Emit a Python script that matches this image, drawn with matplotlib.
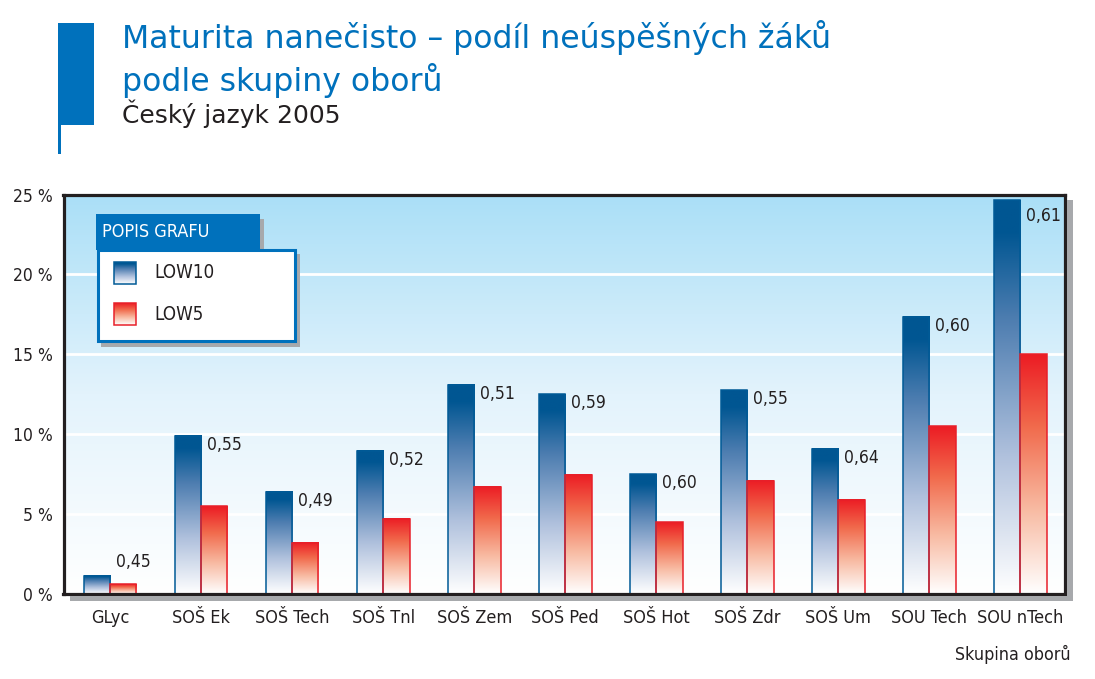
import numpy as np
import matplotlib
matplotlib.use("Agg")
import matplotlib.pyplot as plt
from matplotlib.colors import LinearSegmentedColormap
from matplotlib.patches import Rectangle

# data
obory = ["GLyc", "SOŠ Ek", "SOŠ Tech", "SOŠ Tnl", "SOŠ Zem", "SOŠ Ped",
         "SOŠ Hot", "SOŠ Zdr", "SOŠ Um", "SOU Tech", "SOU nTech"]
low10 = [1.15, 9.9, 6.4, 8.95, 13.1, 12.5, 7.5, 12.75, 9.1, 17.35, 24.65]
low5 = [0.6, 5.5, 3.2, 4.7, 6.7, 7.45, 4.5, 7.1, 5.9, 10.5, 15.0]
popisky = ["0,45", "0,55", "0,49", "0,52", "0,51", "0,59",
           "0,60", "0,55", "0,64", "0,60", "0,61"]
yticks = [0, 5, 10, 15, 20, 25]

W, H = 1095, 679
BLUE = "#0071bc"
DARK = "#231f20"
SHADOW = "#a7a9ac"
NARROW = dict(family="DejaVu Sans", fontstretch="condensed")
plt.rcParams["font.family"] = ["DejaVu Sans"]

fig = plt.figure(figsize=(W / 100, H / 100), dpi=100)
fig.patch.set_facecolor("white")

# axes placed in pixel coords of the reference
left, right, top, bottom = 63.5, 1065, 194.5, 594
ax = fig.add_axes([left / W, 1 - bottom / H, (right - left) / W, (bottom - top) / H])

cm_blue = LinearSegmentedColormap.from_list(
    "b", [(0, "#ffffff"), (0.35, "#b0c1dd"), (0.7, "#4d7db0"), (0.92, "#005692"), (1, "#005692")])
cm_red = LinearSegmentedColormap.from_list(
    "r", [(0, "#ffffff"), (0.35, "#f8bba3"), (0.7, "#f16a4c"), (1, "#ec1c24")])
cm_bg = LinearSegmentedColormap.from_list("bg", ["#ffffff", "#e3f3fc", "#aadff7"])

grad = np.linspace(0, 1, 256).reshape(-1, 1)
ax.imshow(grad, cmap=cm_bg, extent=[0, 1, 0, 1], origin="lower", aspect="auto",
          transform=ax.transAxes, zorder=0)

x = np.arange(len(obory))
w = 0.29
b1 = ax.bar(x - w / 2, low10, w, facecolor="none", edgecolor="#005a96", lw=1.1, zorder=3)
b2 = ax.bar(x + w / 2, low5, w, facecolor="none", edgecolor="#e8202a", lw=1.1, zorder=3)
for bars, cm in ((b1, cm_blue), (b2, cm_red)):
    for r in bars:
        bx, bw, bh = r.get_x(), r.get_width(), r.get_height()
        ax.imshow(grad, cmap=cm, extent=[bx, bx + bw, 0, bh], origin="lower",
                  aspect="auto", zorder=2)

for r, txt in zip(b1, popisky):
    v = r.get_height()
    ax.annotate(txt, (r.get_x() + r.get_width(), min(max(v, 2.55), 24.2)),
                xytext=(4, 0), textcoords="offset points", ha="left", va="top",
                fontsize=12.5, color=DARK, **NARROW)

ax.set_xlim(-0.511, 10.49)
ax.set_ylim(0, 25)
ax.set_yticks(yticks)
ax.set_yticklabels([f"{t} %" for t in yticks], fontsize=12.5, color=DARK, **NARROW)
ax.set_xticks(x)
ax.set_xticklabels(obory, fontsize=13, color=DARK, **NARROW)
ax.tick_params(length=0)
ax.tick_params(axis="y", pad=8)
ax.tick_params(axis="x", pad=11)
ax.set_axisbelow(True)
ax.yaxis.grid(True, color="white", lw=2)
for s in ax.spines.values():
    s.set_color(DARK)
    s.set_linewidth(2.3)
    s.set_zorder(5)

# overlay in pixel coords for the decorations
ov = fig.add_axes([0, 0, 1, 1], zorder=10)
ov.axis("off")

def rect(x0, y0, x1, y1, **kw):
    ov.add_patch(Rectangle((x0, y0), x1 - x0, y1 - y0, **kw))

# frame shadow
rect(1067, 200, 1073, 601, color=SHADOW, lw=0)
rect(70, 596, 1073, 601, color=SHADOW, lw=0)

# title block
rect(58, 23, 94, 125, color=BLUE, lw=0)
rect(58, 125, 60.5, 154, color=BLUE, lw=0)
ov.text(122, 48, "Maturita nanečisto – podíl neúspěšných žáků", color=BLUE,
        fontsize=22.7, va="baseline", ha="left")
ov.text(122, 91, "podle skupiny oborů", color=BLUE, fontsize=22.7, va="baseline", ha="left")
ov.text(122, 123, "Český jazyk 2005", color=DARK, fontsize=18, va="baseline", ha="left")

# legend
rect(101, 219, 264, 255, color=SHADOW, lw=0)
rect(101, 254, 300, 347, color=SHADOW, lw=0)
rect(96, 214, 260, 250, color=BLUE, lw=0)
rect(97.5, 250, 294.5, 341, facecolor="white", edgecolor=BLUE, lw=2.2)
ov.text(102, 232, "POPIS GRAFU", color="white", fontsize=13, va="center", ha="left", **NARROW)
for yy, cm, ec, name in ((262, cm_blue, "#005a96", "LOW10"), (303, cm_red, "#e8202a", "LOW5")):
    ov.imshow(grad, cmap=cm, extent=[114, 136, yy + 22, yy], origin="lower",
              aspect="auto", zorder=3)
    rect(114, yy, 136, yy + 22, facecolor="none", edgecolor=ec, lw=1.1, zorder=4)
    ov.text(154, yy + 11, name, color=DARK, fontsize=13.5, va="center", ha="left", **NARROW)
ov.set_xlim(0, W)
ov.set_ylim(H, 0)

fig.text(1071 / W, 1 - 654 / H, "Skupina oborů", fontsize=12.8,
         color=DARK, ha="right", va="center", **NARROW)

fig.savefig("out.png", dpi=100)
